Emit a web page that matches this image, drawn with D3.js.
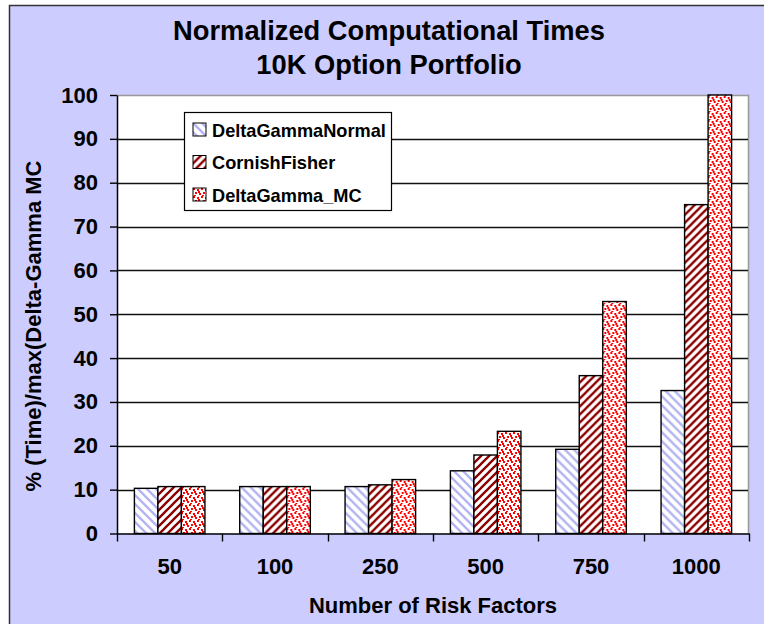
<!DOCTYPE html>
<html>
<head>
<meta charset="utf-8">
<script src="https://cdn.jsdelivr.net/npm/d3@7"></script>
<style>
html,body{margin:0;padding:0;background:#fff;}
svg{display:block;}
text{font-family:"Liberation Sans",Arial,sans-serif;font-weight:bold;fill:#000;}
</style>
</head>
<body>
<script>
const categories = ["50", "100", "250", "500", "750", "1000"];
const seriesNames = ["DeltaGammaNormal", "CornishFisher", "DeltaGamma_MC"];
const deltaGammaNormal = [10.3, 10.7, 10.7, 14.3, 19.2, 32.6];
const cornishFisher = [10.7, 10.7, 11.1, 17.9, 36.0, 75.0];
const deltaGammaMC = [10.7, 10.7, 12.3, 23.3, 52.9, 100];
const yTicks = [0, 10, 20, 30, 40, 50, 60, 70, 80, 90, 100];
const titleLines = ["Normalized Computational Times", "10K Option Portfolio"];
const xTitle = "Number of Risk Factors";
const yTitle = "% (Time)/max(Delta-Gamma MC";

const seriesValues = [deltaGammaNormal, cornishFisher, deltaGammaMC];

const W = 764, H = 624;
const svg = d3.select("body").append("svg").attr("width", W).attr("height", H);

// patterns
const defs = svg.append("defs");
const pBlue = defs.append("pattern").attr("id", "pBlue").attr("patternUnits", "userSpaceOnUse")
  .attr("width", 9).attr("height", 9);
pBlue.append("rect").attr("width", 9).attr("height", 9).attr("fill", "#fff");
pBlue.append("path").attr("d", "M-2,-2 L11,11 M-2,7 L2,11 M7,-2 L11,2")
  .attr("stroke", "#b4b4f2").attr("stroke-width", 2.4);

const pRed = defs.append("pattern").attr("id", "pRed").attr("patternUnits", "userSpaceOnUse")
  .attr("width", 8).attr("height", 8);
pRed.append("rect").attr("width", 8).attr("height", 8).attr("fill", "#fff");
pRed.append("path").attr("d", "M-2,10 L10,-2 M-2,2 L2,-2 M6,10 L10,6")
  .attr("stroke", "#8b0000").attr("stroke-width", 2.3);

const pDot = defs.append("pattern").attr("id", "pDot").attr("patternUnits", "userSpaceOnUse")
  .attr("width", 8).attr("height", 8);
pDot.append("rect").attr("width", 8).attr("height", 8).attr("fill", "#fff");
[[0,0],[4,1],[2,4],[6,5],[1,7],[5,3]].forEach(([a,b]) => {
  pDot.append("rect").attr("x", a).attr("y", b).attr("width", 2).attr("height", 2).attr("fill", "#ff0000");
});
const fills = ["url(#pBlue)", "url(#pRed)", "url(#pDot)"];

// background
svg.append("rect").attr("x", 9.5).attr("y", 5.5).attr("width", W + 20).attr("height", H + 20)
  .attr("fill", "#ccccff").attr("stroke", "#333").attr("stroke-width", 1.5);

const plot = {left: 117, right: 749, top: 95, bottom: 533.5};
const x0 = d3.scaleBand().domain(categories).range([plot.left, plot.right]).paddingInner(0).paddingOuter(0);
const x1 = d3.scaleBand().domain(seriesNames).range([0, x0.bandwidth()]).paddingInner(0).paddingOuter(0.74);
const y = d3.scaleLinear().domain([0, 100]).range([plot.bottom, plot.top]);

// plot area
svg.append("rect").attr("x", plot.left).attr("y", plot.top)
  .attr("width", plot.right - plot.left).attr("height", plot.bottom - plot.top).attr("fill", "#fff");
// top/right grey border
svg.append("path").attr("d", `M${plot.left},${plot.top+0.5}H${plot.right-0.5}V${plot.bottom}`)
  .attr("fill", "none").attr("stroke", "#999").attr("stroke-width", 1.5);

// gridlines
svg.append("g").selectAll("line").data(yTicks.filter(t => t > 0 && t < 100)).join("line")
  .attr("x1", plot.left).attr("x2", plot.right - 1)
  .attr("y1", d => Math.round(y(d)) + 0.5).attr("y2", d => Math.round(y(d)) + 0.5)
  .attr("stroke", "#111").attr("stroke-width", 1.4);

// bars
const groups = svg.append("g").selectAll("g").data(categories).join("g")
  .attr("transform", d => `translate(${x0(d)},0)`);
groups.selectAll("rect").data((c, i) => seriesNames.map((s, j) => ({s, j, v: seriesValues[j][i]}))).join("rect")
  .attr("x", d => x1(d.s)).attr("y", d => y(d.v))
  .attr("width", x1.bandwidth()).attr("height", d => y(0) - y(d.v))
  .attr("fill", d => fills[d.j]).attr("stroke", "#000").attr("stroke-width", 1.4);

// axes
const yAxis = d3.axisLeft(y).tickValues(yTicks).tickSize(7).tickPadding(12).tickSizeOuter(0);
const gy = svg.append("g").attr("transform", `translate(${plot.left},0)`).call(yAxis);
gy.select(".domain").attr("stroke", "#000").attr("stroke-width", 1.5);
gy.selectAll(".tick line").attr("stroke", "#000").attr("stroke-width", 1.4);
gy.selectAll(".tick text").style("font-size", "22px").style("font-family", "Liberation Sans, Arial, sans-serif")
  .style("font-weight", "bold").attr("fill", "#000");

const xAxis = d3.axisBottom(x0).tickSize(0).tickPadding(25).tickSizeOuter(0);
const gx = svg.append("g").attr("transform", `translate(0,${plot.bottom})`).call(xAxis);
gx.select(".domain").attr("stroke", "#000").attr("stroke-width", 1.5);
gx.selectAll(".tick text").style("font-size", "22px").style("font-family", "Liberation Sans, Arial, sans-serif")
  .style("font-weight", "bold").attr("fill", "#000");
// category separator ticks
const sepScale = d3.scaleLinear().domain([0, categories.length]).range([plot.left, plot.right]);
svg.append("g").selectAll("line").data(d3.range(categories.length + 1)).join("line")
  .attr("x1", d => Math.round(sepScale(d)) + 0.5).attr("x2", d => Math.round(sepScale(d)) + 0.5)
  .attr("y1", plot.bottom).attr("y2", plot.bottom + 8)
  .attr("stroke", "#000").attr("stroke-width", 1.4);

// titles
svg.append("g").selectAll("text").data(titleLines).join("text")
  .attr("x", 389).attr("y", (d, i) => 40 + i * 33.5).attr("text-anchor", "middle")
  .style("font-size", "27.3px").text(d => d);
svg.append("text").attr("x", 433).attr("y", 613).attr("text-anchor", "middle")
  .style("font-size", "22px").text(xTitle);
svg.append("text").attr("transform", "translate(41,326) rotate(-90)").attr("text-anchor", "middle")
  .style("font-size", "22px").text(yTitle);

// legend
const lg = svg.append("g");
lg.append("rect").attr("x", 184.5).attr("y", 112.5).attr("width", 207).attr("height", 98)
  .attr("fill", "#fff").attr("stroke", "#000").attr("stroke-width", 1.2);
const rows = lg.selectAll("g").data(seriesNames).join("g")
  .attr("transform", (d, i) => `translate(193,${123 + i * 32.5})`);
rows.append("rect").attr("width", 13).attr("height", 13)
  .attr("fill", (d, i) => fills[i]).attr("stroke", "#000").attr("stroke-width", 1);
rows.append("text").attr("x", 19).attr("y", 13.5).style("font-size", "18.2px").text(d => d);
</script>
</body>
</html>
